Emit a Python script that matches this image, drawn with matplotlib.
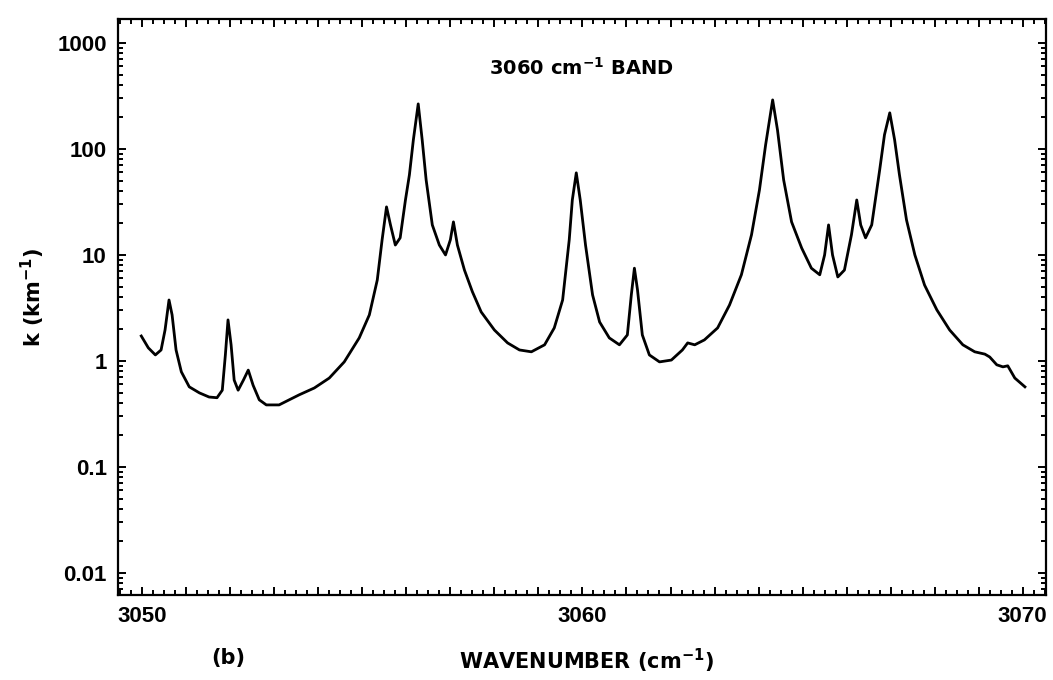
import matplotlib.pyplot as plt
from matplotlib.ticker import MultipleLocator, FixedLocator, LogLocator, NullFormatter, FuncFormatter

# absorption coefficient across the 3060 cm-1 band, read point by point
wavenumber = [
    3049.98, 3050.14, 3050.30, 3050.43, 3050.52, 3050.61, 3050.68, 3050.77, 3050.89, 3051.07,
    3051.30, 3051.52, 3051.70, 3051.82, 3051.89, 3051.95, 3052.02, 3052.09, 3052.18, 3052.30,
    3052.41, 3052.52, 3052.66, 3052.82, 3053.11, 3053.34, 3053.57, 3053.91, 3054.25, 3054.59,
    3054.93, 3055.16, 3055.34, 3055.45, 3055.55, 3055.64, 3055.75, 3055.86, 3055.98, 3056.07,
    3056.16, 3056.27, 3056.36, 3056.45, 3056.59, 3056.75, 3056.89, 3057.00, 3057.07, 3057.16,
    3057.32, 3057.50, 3057.70, 3058.00, 3058.30, 3058.57, 3058.84, 3059.14, 3059.36, 3059.55,
    3059.70, 3059.77, 3059.86, 3059.95, 3060.07, 3060.23, 3060.39, 3060.61, 3060.84, 3061.02,
    3061.11, 3061.18, 3061.25, 3061.36, 3061.52, 3061.75, 3062.02, 3062.27, 3062.39, 3062.55,
    3062.77, 3063.07, 3063.34, 3063.61, 3063.84, 3064.02, 3064.16, 3064.32, 3064.43, 3064.57,
    3064.75, 3064.98, 3065.20, 3065.39, 3065.50, 3065.59, 3065.68, 3065.80, 3065.95, 3066.11,
    3066.23, 3066.32, 3066.43, 3066.57, 3066.75, 3066.86, 3066.98, 3067.09, 3067.20, 3067.36,
    3067.55, 3067.77, 3068.05, 3068.34, 3068.64, 3068.91, 3069.14, 3069.25, 3069.41, 3069.55,
    3069.66, 3069.82, 3070.05,
]
k_values = [
    1.72, 1.33, 1.14, 1.27, 1.96, 3.76, 2.72, 1.27, 0.79, 0.57,
    0.50, 0.457, 0.45, 0.53, 1.14, 2.44, 1.42, 0.66, 0.53, 0.66,
    0.82, 0.59, 0.43, 0.385, 0.385, 0.43, 0.48, 0.556, 0.69, 0.98,
    1.65, 2.72, 5.8, 13.9, 28.4, 19.2, 12.4, 14.5, 33, 57,
    122, 266, 122, 51, 19.2, 12.4, 10, 13.9, 20.5, 12.4,
    7.2, 4.5, 2.9, 1.96, 1.48, 1.27, 1.22, 1.42, 2.05, 3.76,
    13.9, 33, 59.5, 33, 12.4, 4.2, 2.33, 1.65, 1.42, 1.76,
    4.2, 7.5, 4.7, 1.76, 1.14, 0.98, 1.02, 1.27, 1.48, 1.42,
    1.58, 2.05, 3.37, 6.5, 15.5, 41, 109, 290, 151, 51,
    20.5, 11.6, 7.5, 6.5, 10, 19.2, 10, 6.2, 7.2, 15.5,
    33, 19.2, 14.5, 19.2, 63, 136, 219, 122, 57, 21.4,
    10, 5.2, 3.03, 1.96, 1.42, 1.22, 1.16, 1.09, 0.92, 0.88,
    0.90, 0.69, 0.57,
]

y_ticks = [0.01, 0.1, 1, 10, 100, 1000]
y_tick_labels = ["0.01", "0.1", "1", "10", "100", "1000"]
x_labeled = [3050, 3060, 3070]

plt.rcParams['font.family'] = ["DejaVu Sans"]
tick_font = ["Liberation Sans", "DejaVu Sans"]

fig = plt.figure(figsize=(10.53, 6.8), dpi=100)
ax = fig.add_axes([0.112, 0.125, 0.881, 0.847])

ax.plot(wavenumber, k_values, color='black', linewidth=2.0)

ax.set_yscale('log')
ax.set_xlim(3049.45, 3070.52)
ax.set_ylim(0.0062, 1680)

# x: tick every unit, small ticks every quarter, labels only on tens
ax.xaxis.set_major_locator(MultipleLocator(1))
ax.xaxis.set_minor_locator(MultipleLocator(0.25))
ax.xaxis.set_major_formatter(FuncFormatter(
    lambda v, p: f"{int(round(v))}" if int(round(v)) in x_labeled else ""))

ax.yaxis.set_minor_locator(LogLocator(base=10, subs=range(2, 10)))
ax.yaxis.set_minor_formatter(NullFormatter())
ax.set_yticks(y_ticks)
ax.set_yticklabels(y_tick_labels)

ax.tick_params(which='both', direction='in', top=True, right=True, width=1.4)
ax.tick_params(which='major', length=6, labelsize=16, pad=8)
ax.tick_params(which='minor', length=3.5)
for lbl in ax.get_xticklabels() + ax.get_yticklabels():
    lbl.set_fontweight('bold')
    lbl.set_family(tick_font)

for s in ax.spines.values():
    s.set_linewidth(1.6)

ax.text(0.5, 0.915, r"3060 cm$^{\mathbf{-1}}$ BAND", transform=ax.transAxes,
        ha='center', va='center', fontsize=14, fontweight='bold')

fig.text(0.557, 0.028, r"WAVENUMBER (cm$^{\mathbf{-1}}$)", ha='center', va='center',
         fontsize=15, fontweight='bold')
fig.text(0.217, 0.033, "(b)", ha='center', va='center', fontsize=15, fontweight='bold')
fig.text(0.031, 0.563, r"k (km$^{\mathbf{-1}}$)", rotation=90, ha='center', va='center',
         fontsize=15, fontweight='bold')

fig.savefig("out.png", dpi=100)
